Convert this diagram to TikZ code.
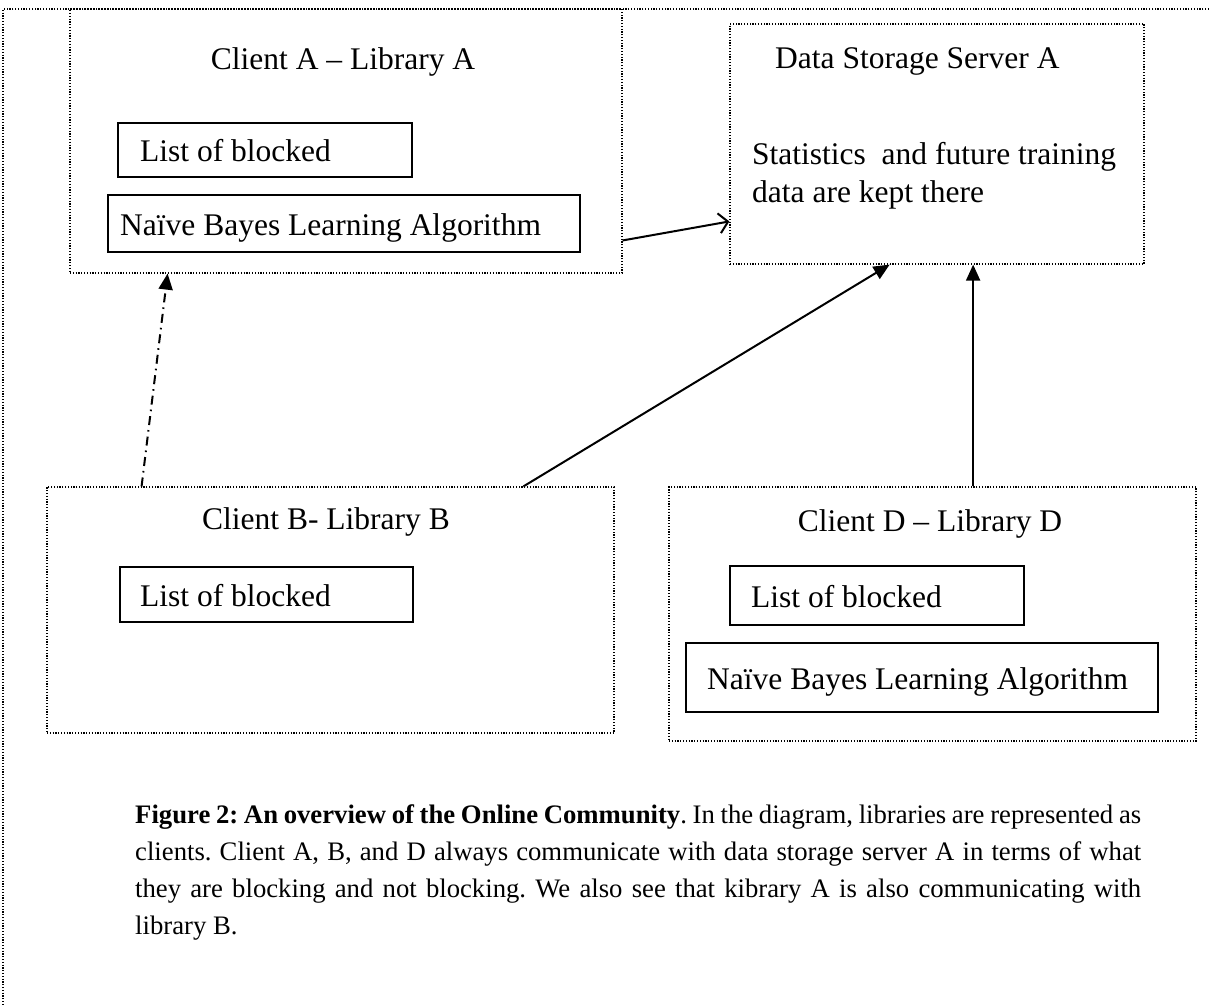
\documentclass[tikz,border=0pt]{standalone}
\usepackage{fontspec}
\setmainfont{Liberation Serif}
\usetikzlibrary{arrows.meta,calc}

\tikzset{
  dotbox/.style={draw, line width=1.2pt, dash pattern=on 1.2pt off 1.6pt, inner sep=0pt},
  dotline/.style={line width=1.2pt, dash pattern=on 1.2pt off 1.6pt},
  solidbox/.style={draw, line width=2.4pt, inner sep=0pt},
  boxtext/.style={inner sep=0pt, font=\fontsize{31.5pt}{37pt}\selectfont},
  link/.style={line width=2pt, -{Triangle[length=16pt,width=14pt]}},
  openlink/.style={line width=2pt, -{Straight Barb[length=9pt,width=20pt,line width=2pt]}},
  peerlink/.style={line width=2pt, dash pattern=on 9pt off 5pt on 1.6pt off 5pt,
    -{Triangle[length=16pt,width=14pt]}}
}

\begin{document}
\begin{tikzpicture}[x=1pt,y=-1pt]
\useasboundingbox (0,0) rectangle (1209,1005);

% outer frame (top and left edges only)
\draw[dotline] (1209,9) -- (3,9) -- (3,1005);

% Client A
\node[dotbox, minimum width=552pt, minimum height=264pt] (clientA) at (346,141) {};
\node[boxtext, anchor=base] (titleA) at (343,69) {Client A – Library A};
\node[solidbox, minimum width=294pt, minimum height=54pt] (listA) at (265,150) {};
\node[boxtext, anchor=base west] (listAtext) at (140,161) {List of blocked};
\node[solidbox, minimum width=472pt, minimum height=57pt] (nbA) at (344,223.5) {};
\node[boxtext, anchor=base west] (nbAtext) at (120,235) {Naïve Bayes Learning Algorithm};

% Data storage server
\node[dotbox, minimum width=414pt, minimum height=240pt] (server) at (937,144) {};
\node[boxtext, anchor=base west] (serverTitle) at (775,68) {Data Storage Server A};
\node[boxtext, anchor=base west] (serverL1) at (752,164) {Statistics\ \ and future training};
\node[boxtext, anchor=base west] (serverL2) at (752,202) {data are kept there};

% Client B
\node[dotbox, minimum width=567pt, minimum height=246pt] (clientB) at (330.5,610) {};
\node[boxtext, anchor=base] (titleB) at (326,529) {Client B- Library B};
\node[solidbox, minimum width=293pt, minimum height=55pt] (listB) at (266.5,594.5) {};
\node[boxtext, anchor=base west] (listBtext) at (140,606) {List of blocked};

% Client D
\node[dotbox, minimum width=527pt, minimum height=254pt] (clientD) at (932.5,614) {};
\node[boxtext, anchor=base] (titleD) at (930,531) {Client D – Library D};
\node[solidbox, minimum width=294pt, minimum height=59pt] (listD) at (877,595.5) {};
\node[boxtext, anchor=base west] (listDtext) at (751,607) {List of blocked};
\node[solidbox, minimum width=472pt, minimum height=69pt] (nbD) at (922,677.5) {};
\node[boxtext, anchor=base west] (nbDtext) at (707,689) {Naïve Bayes Learning Algorithm};

% connector end points on the box borders
\coordinate (aOut) at ($(clientA.south east)!0.125!(clientA.north east)$);
\coordinate (sIn) at ($(server.south west)!0.179!(server.north west)$);
\coordinate (bPeer) at ($(clientB.north west)!0.1675!(clientB.north east)$);
\coordinate (aPeer) at ($(clientA.south west)!0.1775!(clientA.south east)$);
\coordinate (bOut) at ($(clientB.north west)!0.8395!(clientB.north east)$);
\coordinate (sInB) at ($(server.south west)!0.386!(server.south east)$);
\coordinate (sInD) at ($(server.south west)!0.587!(server.south east)$);
\coordinate (dOut) at (sInD |- clientD.north);

% connectors
\draw[openlink] (aOut) -- (sIn);
\draw[peerlink] (bPeer) -- (aPeer);
\draw[link] (bOut) -- (sInB);
\draw[link] (dOut) -- (sInD);

% caption
\node[anchor=north west, inner sep=0pt, text width=1006pt, align=justify,
      font=\fontsize{26.7pt}{37.3pt}\selectfont] (caption) at (135,804)
  {\frenchspacing\hyphenpenalty=10000 \textbf{Figure 2: An overview of the Online Community}. In the diagram, libraries are represented as\linebreak
   clients. Client A, B, and D always communicate with data storage server A in terms of what\linebreak
   they are blocking and not blocking. We also see that kibrary A is also communicating with\linebreak
   library B.};
\end{tikzpicture}
\end{document}
